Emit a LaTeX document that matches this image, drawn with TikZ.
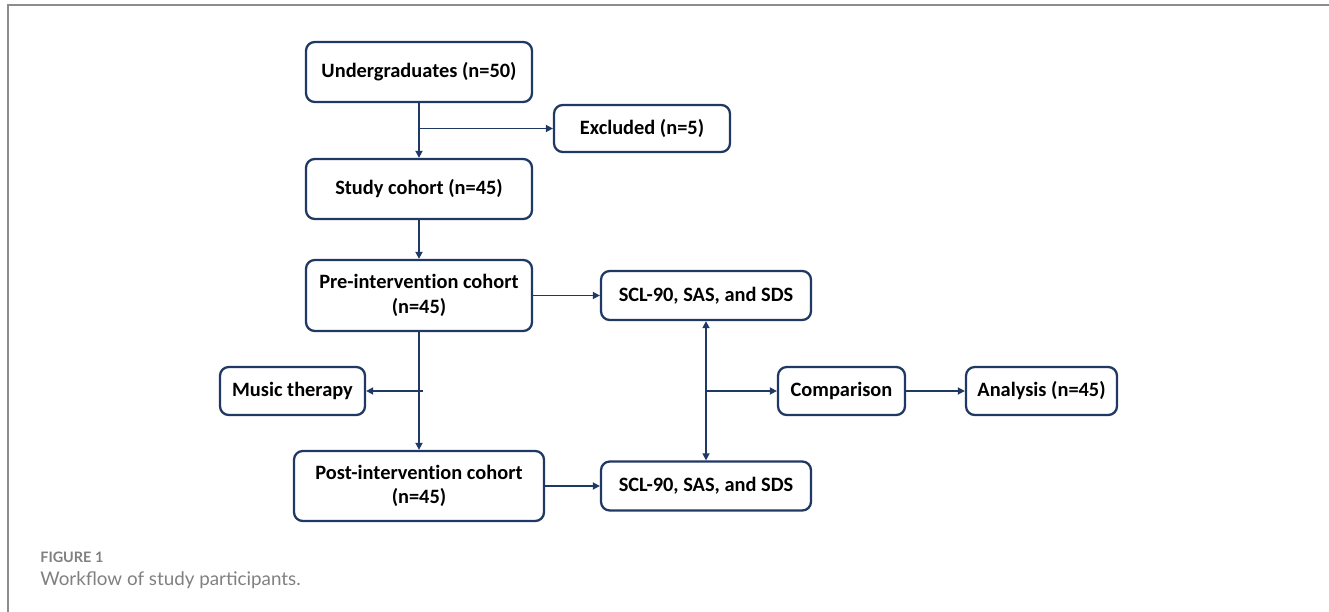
\documentclass[tikz,border=0pt]{standalone}
\usepackage{fontspec}
\setmainfont{Carlito}[Ligatures=NoCommon]
\newfontfamily\captionfont{Lato}
\usetikzlibrary{arrows.meta}
\definecolor{navy}{HTML}{1F3864}
\definecolor{framegray}{HTML}{8C8C8C}
\definecolor{captiongray}{HTML}{808080}
\begin{document}
\begin{tikzpicture}[
  box/.style={draw=navy, line width=1.3pt, rounded corners=5pt, fill=white,
    align=center, inner sep=2pt, font=\fontsize{11.6}{14}\selectfont\bfseries},
  flow/.style={draw=navy, line width=0.9pt, -{Triangle[length=4pt,width=4pt]}},
  both/.style={draw=navy, line width=0.9pt,
    {Triangle[length=4pt,width=4pt]}-{Triangle[length=4pt,width=4pt]}}
]
\useasboundingbox (0,0) rectangle (26.58,-12.24);
% Frame lines
\draw[framegray, line width=1.2pt] (0.16,-12.24) -- (0.16,-0.1) -- (26.58,-0.1);
% Main column
\node[box, minimum width=4.52cm, minimum height=1.2cm] (ug) at (8.38,-1.44) {Undergraduates (n=50)};
\node[box, minimum width=3.52cm, minimum height=0.94cm] (excl) at (12.84,-2.57) {Excluded (n=5)};
\node[box, minimum width=4.52cm, minimum height=1.2cm] (study) at (8.38,-3.78) {Study cohort (n=45)};
\node[box, minimum width=4.52cm, minimum height=1.42cm] (pre) at (8.38,-5.91) {Pre-intervention cohort\\(n=45)};
\node[box, minimum width=2.9cm, minimum height=0.96cm] (music) at (5.85,-7.82) {Music therapy};
\node[box, minimum width=5.0cm, minimum height=1.4cm] (post) at (8.38,-9.72) {Post-intervention cohort\\(n=45)};
% Scales and analysis
\node[box, minimum width=4.2cm, minimum height=0.98cm] (scla) at (14.12,-5.91) {SCL-90, SAS, and SDS};
\node[box, minimum width=4.2cm, minimum height=0.98cm] (sclb) at (14.12,-9.72) {SCL-90, SAS, and SDS};
\node[box, minimum width=2.54cm, minimum height=0.96cm] (comp) at (16.83,-7.82) {Comparison};
\node[box, minimum width=3.02cm, minimum height=0.96cm] (anal) at (20.83,-7.82) {Analysis (n=45)};
% Junctions
\coordinate (exj) at (ug.south |- excl.west);
\coordinate (muj) at (pre.south |- music.east);
\coordinate (cmj) at (scla.south |- comp.west);
% Connectors
\draw[flow] (ug) -- (study);
\draw[flow] (exj) -- (excl);
\draw[flow] (study) -- (pre);
\draw[flow] (pre) -- (post);
\draw[flow] ([xshift=2pt]muj) -- (music);
\draw[flow] (pre) -- (scla);
\draw[flow] (post.east |- sclb.west) -- (sclb);
\draw[both] (scla) -- (sclb);
\draw[flow] (cmj) -- (comp);
\draw[flow] (comp) -- (anal);
% Caption
\node[anchor=west, inner sep=0pt, text=captiongray, font=\captionfont\bfseries\fontsize{8.2}{10}\selectfont] (fig) at (0.8,-11.14) {FIGURE 1};
\node[anchor=west, inner sep=0pt, text=captiongray, font=\captionfont\fontsize{10.7}{13}\selectfont] (cap) at (0.8,-11.6) {Workflow of study participants.};
\end{tikzpicture}
\end{document}
